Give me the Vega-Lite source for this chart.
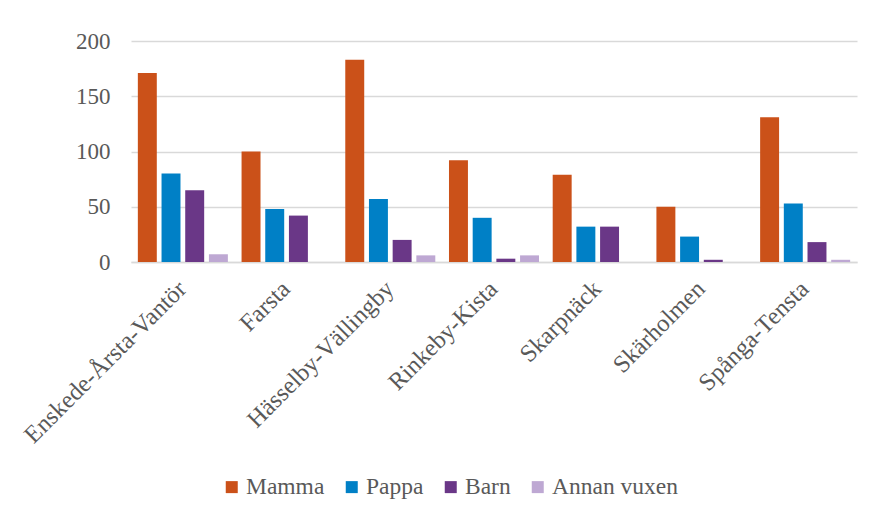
{
  "$schema": "https://vega.github.io/schema/vega-lite/v6.json",
  "autosize": "none",
  "width": 726,
  "height": 221,
  "padding": {"left": 131, "top": 41, "right": 22, "bottom": 255},
  "background": "white",
  "config": {
    "view": {"stroke": null},
    "font": "Liberation Serif",
    "style": {"guide-label": {"font": "Liberation Serif"}},
    "axis": {"labelFont": "Liberation Serif", "labelColor": "#595959", "labelFontSize": 23, "ticks": false, "domain": false, "gridColor": "#d9d9d9", "gridWidth": 1.5, "labelLimit": 0},
    "legend": {"labelFont": "Liberation Serif", "labelColor": "#595959", "labelFontSize": 23.5, "labelLimit": 0}
  },
  "data": {
    "values": [
      {"omrade": "Enskede-Årsta-Vantör", "typ": "Mamma", "antal": 171},
      {"omrade": "Enskede-Årsta-Vantör", "typ": "Pappa", "antal": 80},
      {"omrade": "Enskede-Årsta-Vantör", "typ": "Barn", "antal": 65},
      {"omrade": "Enskede-Årsta-Vantör", "typ": "Annan vuxen", "antal": 7},
      {"omrade": "Farsta", "typ": "Mamma", "antal": 100},
      {"omrade": "Farsta", "typ": "Pappa", "antal": 48},
      {"omrade": "Farsta", "typ": "Barn", "antal": 42},
      {"omrade": "Farsta", "typ": "Annan vuxen", "antal": 0},
      {"omrade": "Hässelby-Vällingby", "typ": "Mamma", "antal": 183},
      {"omrade": "Hässelby-Vällingby", "typ": "Pappa", "antal": 57},
      {"omrade": "Hässelby-Vällingby", "typ": "Barn", "antal": 20},
      {"omrade": "Hässelby-Vällingby", "typ": "Annan vuxen", "antal": 6},
      {"omrade": "Rinkeby-Kista", "typ": "Mamma", "antal": 92},
      {"omrade": "Rinkeby-Kista", "typ": "Pappa", "antal": 40},
      {"omrade": "Rinkeby-Kista", "typ": "Barn", "antal": 3},
      {"omrade": "Rinkeby-Kista", "typ": "Annan vuxen", "antal": 6},
      {"omrade": "Skarpnäck", "typ": "Mamma", "antal": 79},
      {"omrade": "Skarpnäck", "typ": "Pappa", "antal": 32},
      {"omrade": "Skarpnäck", "typ": "Barn", "antal": 32},
      {"omrade": "Skarpnäck", "typ": "Annan vuxen", "antal": 0},
      {"omrade": "Skärholmen", "typ": "Mamma", "antal": 50},
      {"omrade": "Skärholmen", "typ": "Pappa", "antal": 23},
      {"omrade": "Skärholmen", "typ": "Barn", "antal": 2},
      {"omrade": "Skärholmen", "typ": "Annan vuxen", "antal": 0},
      {"omrade": "Spånga-Tensta", "typ": "Mamma", "antal": 131},
      {"omrade": "Spånga-Tensta", "typ": "Pappa", "antal": 53},
      {"omrade": "Spånga-Tensta", "typ": "Barn", "antal": 18},
      {"omrade": "Spånga-Tensta", "typ": "Annan vuxen", "antal": 2}
    ]
  },
  "mark": {"type": "bar"},
  "encoding": {
    "x": {
      "field": "omrade", "type": "nominal", "sort": null, "title": null,
      "scale": {"paddingInner": 0.132, "paddingOuter": 0.066},
      "axis": {"labelAngle": -45, "labelAlign": "right", "labelBaseline": "middle", "labelPadding": 23, "labelLimit": 0, "labelFont": "Liberation Serif", "labelFontSize": 24.5, "grid": false, "domain": true, "domainColor": "#d9d9d9", "domainWidth": 1.5}
    },
    "xOffset": {
      "field": "typ", "type": "nominal", "sort": ["Mamma", "Pappa", "Barn", "Annan vuxen"],
      "scale": {"paddingInner": 0.2, "paddingOuter": 0}
    },
    "y": {
      "field": "antal", "type": "quantitative", "title": null,
      "scale": {"domain": [0, 200], "nice": false},
      "axis": {"values": [0, 50, 100, 150, 200], "labelPadding": 21, "labelFont": "Liberation Serif"}
    },
    "color": {
      "field": "typ", "type": "nominal", "title": null,
      "sort": ["Mamma", "Pappa", "Barn", "Annan vuxen"],
      "scale": {"domain": ["Mamma", "Pappa", "Barn", "Annan vuxen"], "range": ["#CB5119", "#0080C6", "#6A3787", "#BEA8D3"]},
      "legend": {"orient": "none", "legendX": 89, "legendY": 434, "direction": "horizontal", "symbolType": "square", "symbolSize": 144, "symbolStrokeWidth": 0, "labelOffset": 2.5, "columnPadding": 15, "padding": 0, "labelFont": "Liberation Serif", "labelFontSize": 23.5, "labelColor": "#595959", "labelLimit": 0}
    }
  }
}
